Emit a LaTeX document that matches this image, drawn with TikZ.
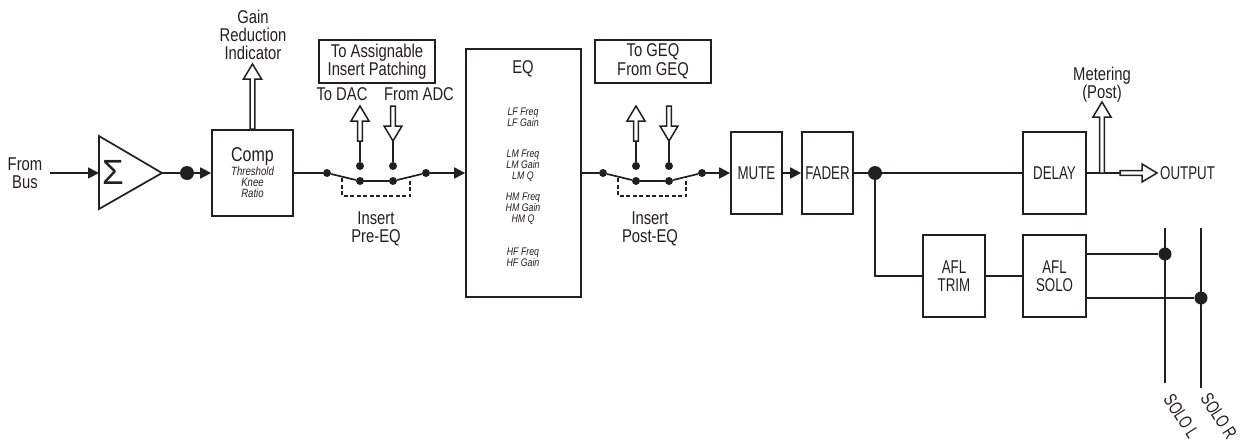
\documentclass[tikz,border=0pt]{standalone}
\usepackage{fontspec}
\setmainfont[FakeStretch=0.8]{Liberation Sans}
\newfontfamily\sigmafont{Liberation Sans}
\newfontfamily\capsfont[FakeStretch=0.72]{Liberation Sans}
\usetikzlibrary{arrows.meta,calc}
\definecolor{ink}{HTML}{231F20}
\tikzset{
  wire/.style={line width=1.7pt,draw=ink},
  flow/.style={wire,-{Triangle[length=11pt,width=11pt]}},
  hollowline/.style={draw=ink,line width=1.5pt,fill=white,line join=miter},
  blockbox/.style={draw=ink,line width=1.7pt,fill=white,inner sep=0pt,align=center,
     font=\fontsize{18.5}{18.5}\selectfont,text=ink},
  capsbox/.style={blockbox,font=\fontsize{18.5}{18}\capsfont},
  label/.style={inner sep=0pt,align=center,font=\fontsize{18.5}{18}\selectfont,text=ink},
  capslabel/.style={inner sep=0pt,align=center,font=\fontsize{18.5}{18}\capsfont,text=ink},
  tiny/.style={inner sep=0pt,align=center,font=\fontsize{11}{10.8}\selectfont\itshape,text=ink},
  bigdot/.style={circle,fill=ink,inner sep=0pt,minimum size=14pt},
  smalldot/.style={circle,fill=ink,inner sep=0pt,minimum size=8pt},
  busdot/.style={circle,fill=ink,inner sep=0pt,minimum size=13pt},
}
\newcommand\hollowarrow[2]{\draw[hollowline]
  ($(#1)!2.4pt!90:(#2)$) -- ($(#2)!15pt!(#1)!2.4pt!-90:(#1)$) --
  ($(#2)!15pt!(#1)!9pt!-90:(#1)$) -- (#2) -- ($(#2)!15pt!(#1)!9pt!90:(#1)$) --
  ($(#2)!15pt!(#1)!2.4pt!90:(#1)$) -- ($(#1)!2.4pt!-90:(#2)$) -- cycle;}
\begin{document}
\begin{tikzpicture}[x=1pt,y=-1pt]
\useasboundingbox (0,0) rectangle (1250,439);
\clip (0,0) rectangle (1250,439);
% input
\node[label] (frombus) at (25,173) {From\\Bus};
\coordinate (busin) at (50,173);
\draw[wire,fill=white] (99,136) -- (162,173) -- (99,209) -- cycle;
\coordinate (sumin) at (99,173);
\coordinate (sumout) at (162,173);
\node[inner sep=0pt,text=ink,font=\fontsize{35}{35}\sigmafont] (sigma) at (113,172) {Σ};
\node[bigdot] (d1) at (187,173) {};
\node[blockbox,minimum width=81pt,minimum height=86pt] (comp) at (252.5,173) {};
\node[inner sep=0pt,text=ink,font=\fontsize{20}{20}\selectfont] (comptxt) at (252.5,157) {Comp};
\node[tiny,font=\fontsize{12}{10.8}\selectfont\itshape] (comptiny) at (252.5,182) {Threshold\\Knee\\Ratio};
\node[label] (gain) at (253,35) {Gain\\Reduction\\Indicator};
\coordinate (gaintip) at (252.5,64);
\draw[flow] (busin) -- (sumin);
\draw[wire] (sumout) -- (d1);
\draw[flow] (d1) -- (comp.west);
\hollowarrow{comp.north}{gaintip}
% insert pre
\node[blockbox,minimum width=116pt,minimum height=43pt] (assign) at (377,61.5) {To Assignable\\Insert Patching};
\node[label] (todac) at (342,94) {To DAC};
\node[label] (fromadc) at (419,94) {From ADC};
\foreach \n/\x/\y in {a1/327/173,a2/360/181,a3/393/181,a4/426/173,a5/360/166,a6/393/166}
  \node[smalldot] (\n) at (\x,\y) {};
\coordinate (a5t) at (360,106);
\coordinate (a6b) at (393,106);
\coordinate (a5m) at (360,141);
\coordinate (a6m) at (393,141);
\draw[wire] (comp.east |- a1) -- (a1) -- (a2) -- (a3) -- (a4);
\draw[wire] (a5) -- (a5m);
\draw[wire] (a6) -- (a6m);
\hollowarrow{a5m}{a5t}
\hollowarrow{a6b}{a6m}
\draw[wire,dashed,dash pattern=on 4pt off 2.5pt,line width=1.4pt] (342,178) -- (342,196) -- (410,196) -- (410,177);
\node[label] (inspre) at (376,229) {Insert\\Pre-EQ};
% EQ
\node[blockbox,minimum width=115pt,minimum height=248pt] (eq) at (523.5,173) {};
\draw[flow] (a4) -- (eq.west);
\node[inner sep=0pt,text=ink,font=\fontsize{18.5}{18}\selectfont] (eqtxt) at (523,69) {EQ};
\node[tiny] (lf) at (523,117.5) {LF Freq\\LF Gain};
\node[tiny] (lm) at (523,166) {LM Freq\\LM Gain\\LM Q};
\node[tiny] (hm) at (523,208.5) {HM Freq\\HM Gain\\HM Q};
\node[tiny] (hf) at (523,257) {HF Freq\\HF Gain};
% insert post
\node[blockbox,minimum width=116pt,minimum height=43pt] (geq) at (653,61.5) {To GEQ\\From GEQ};
\foreach \n/\x/\y in {b1/603/173,b2/636/181,b3/669/181,b4/702/173,b5/636/166,b6/669/166}
  \node[smalldot] (\n) at (\x,\y) {};
\coordinate (b5t) at (636,106);
\coordinate (b6b) at (669,106);
\coordinate (b5m) at (636,141);
\coordinate (b6m) at (669,141);
\draw[wire] (eq.east |- b1) -- (b1) -- (b2) -- (b3) -- (b4);
\draw[wire] (b5) -- (b5m);
\draw[wire] (b6) -- (b6m);
\hollowarrow{b5m}{b5t}
\hollowarrow{b6b}{b6m}
\draw[wire,dashed,dash pattern=on 4pt off 2.5pt,line width=1.4pt] (618,178) -- (618,196) -- (686,196) -- (686,177);
\node[label] (inspost) at (650,229) {Insert\\Post-EQ};
% output chain
\node[capsbox,minimum width=51pt,minimum height=82pt] (mute) at (756.5,173) {MUTE};
\node[capsbox,minimum width=51pt,minimum height=82pt] (fader) at (827.5,173) {FADER};
\node[bigdot] (d2) at (875,173) {};
\node[capsbox,minimum width=63pt,minimum height=82pt] (delay) at (1054.5,173) {DELAY};
\node[capsbox,minimum width=62pt,minimum height=82pt] (trim) at (954,276) {AFL\\TRIM};
\node[capsbox,minimum width=63pt,minimum height=82pt] (solo) at (1054.5,276) {AFL\\SOLO};
\draw[flow] (b4) -- (mute.west);
\draw[flow] (mute) -- (fader.west);
\draw[wire] (fader) -- (d2);
\draw[wire] (d2) -- (delay);
\draw[wire] (d2) |- (trim);
\draw[wire] (trim) -- (solo);
\coordinate (mbase) at (1102,173);
\coordinate (mtip) at (1102,102);
\coordinate (obase) at (1120,173);
\coordinate (otip) at (1157,173);
\draw[wire] (delay) -- (obase);
\hollowarrow{mbase}{mtip}
\hollowarrow{obase}{otip}
\node[label] (metering) at (1102,85) {Metering\\(Post)};
\node[capslabel,anchor=west] (output) at (1160,173) {OUTPUT};
% solo buses
\coordinate (lt) at (1165,228);
\coordinate (lb) at (1165,383);
\coordinate (rt) at (1201,228);
\coordinate (rb) at (1201,388);
\draw[wire] (lt) -- (lb);
\draw[wire] (rt) -- (rb);
\node[busdot] (dl) at (1165,254) {};
\node[busdot] (dr) at (1201,298) {};
\draw[wire] (solo.east |- dl) -- (dl);
\draw[wire] (solo.east |- dr) -- (dr);
\node[capslabel,rotate=-57,anchor=west] (sl) at (1168,396) {SOLO L};
\node[capslabel,rotate=-57,anchor=west] (sr) at (1205,395) {SOLO R};
\end{tikzpicture}
\end{document}
